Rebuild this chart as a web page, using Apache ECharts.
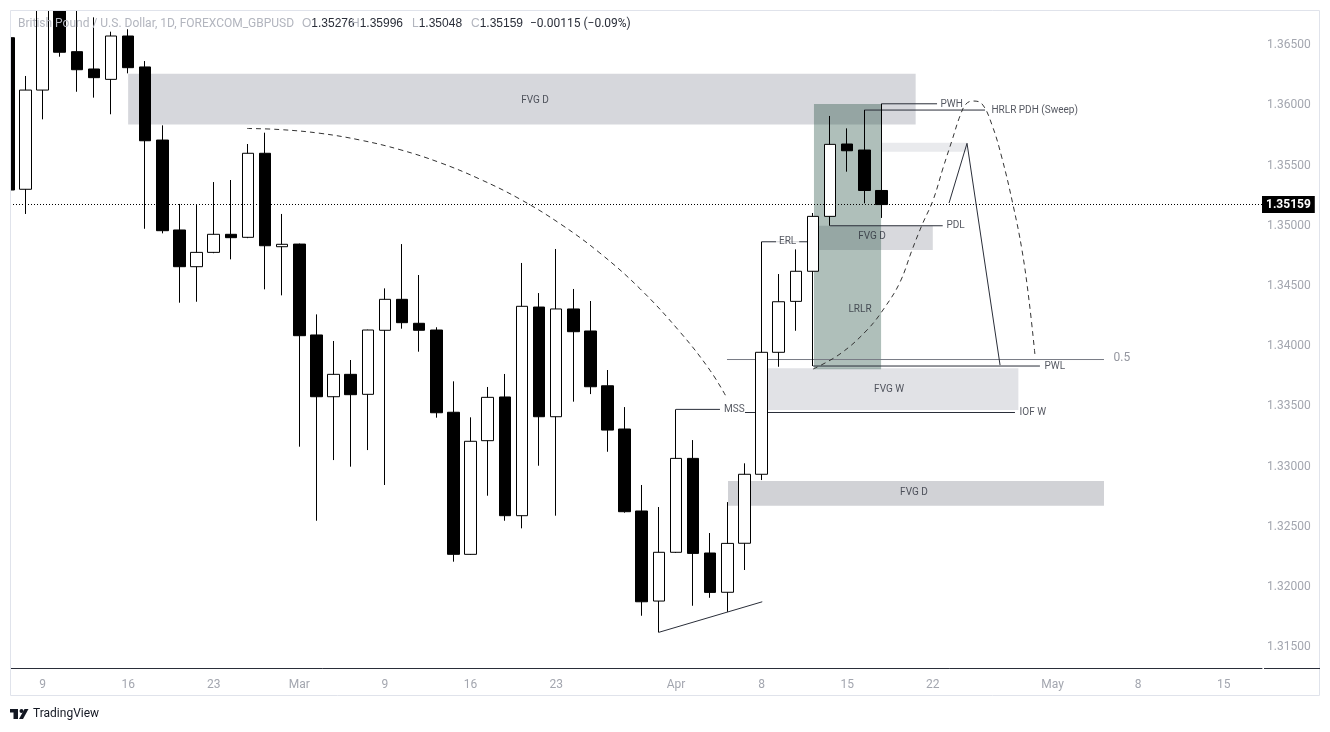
<!DOCTYPE html>
<html>
<head>
<meta charset="utf-8">
<title>GBPUSD 1D</title>
<script src="https://cdn.jsdelivr.net/npm/echarts@6/dist/echarts.min.js"></script>
<style>
  html, body { margin: 0; padding: 0; background: #fff; }
  #chart { width: 1330px; height: 732px; }
</style>
</head>
<body>
<div id="chart"></div>
<script>
// trading days shown (index = position on the x axis)
var days = ['Feb 5', 'Feb 6', 'Feb 9', 'Feb 10', 'Feb 11', 'Feb 12', 'Feb 13', 'Feb 16', 'Feb 17', 'Feb 18',
    'Feb 19', 'Feb 20', 'Feb 23', 'Feb 24', 'Feb 25', 'Feb 26', 'Feb 27', 'Mar 2', 'Mar 3', 'Mar 4',
    'Mar 5', 'Mar 6', 'Mar 9', 'Mar 10', 'Mar 11', 'Mar 12', 'Mar 13', 'Mar 16', 'Mar 17', 'Mar 18',
    'Mar 19', 'Mar 20', 'Mar 23', 'Mar 24', 'Mar 25', 'Mar 26', 'Mar 27', 'Mar 30', 'Mar 31', 'Apr 1',
    'Apr 2', 'Apr 3', 'Apr 6', 'Apr 7', 'Apr 8', 'Apr 9', 'Apr 10', 'Apr 13', 'Apr 14', 'Apr 15',
    'Apr 16', 'Apr 17'];

var opens = [1.36545, 1.35286, 1.36110, 1.36890, 1.36429, 1.36285, 1.36199, 1.36559, 1.36302, 1.35695,
    1.34948, 1.34643, 1.34762, 1.34912, 1.34887, 1.35585, 1.34809, 1.34831, 1.34076, 1.33563,
    1.33749, 1.33583, 1.34115, 1.34372, 1.34173, 1.34117, 1.33434, 1.32254, 1.33198, 1.33561,
    1.32575, 1.34308, 1.33397, 1.34292, 1.34109, 1.33654, 1.33295, 1.32614, 1.31866, 1.32271,
    1.33051, 1.32265, 1.31939, 1.32346, 1.32919, 1.33932, 1.34355, 1.34605, 1.35061, 1.35662,
    1.35612, 1.35276];
var highs = [1.36600, 1.36227, 1.37020, 1.37050, 1.36850, 1.36714, 1.36595, 1.36615, 1.36351, 1.35817,
    1.35164, 1.35155, 1.35346, 1.35363, 1.35662, 1.35756, 1.35081, 1.34835, 1.34247, 1.34026,
    1.33868, 1.34120, 1.34463, 1.34831, 1.34574, 1.34140, 1.33691, 1.33392, 1.33644, 1.33752,
    1.34674, 1.34424, 1.34790, 1.34458, 1.34358, 1.33785, 1.33477, 1.32830, 1.32647, 1.33458,
    1.33203, 1.32431, 1.32688, 1.33010, 1.34850, 1.34582, 1.34787, 1.35089, 1.35895, 1.35792,
    1.35944, 1.35996];
var lows = [1.35200, 1.35081, 1.35867, 1.36387, 1.36096, 1.36047, 1.35909, 1.36249, 1.34958, 1.34920,
    1.34344, 1.34352, 1.34755, 1.34704, 1.34880, 1.34455, 1.34405, 1.33148, 1.32533, 1.33037,
    1.32982, 1.33120, 1.32830, 1.34128, 1.33937, 1.33389, 1.32193, 1.32250, 1.32741, 1.32533,
    1.32470, 1.32990, 1.32575, 1.33522, 1.33585, 1.33106, 1.32600, 1.31744, 1.31606, 1.32265,
    1.31827, 1.31893, 1.31777, 1.32124, 1.32871, 1.33812, 1.34111, 1.33818, 1.34983, 1.35432,
    1.35169, 1.35048];
var closes = [1.35280, 1.36110, 1.36900, 1.36424, 1.36279, 1.36213, 1.36559, 1.36296, 1.35689, 1.34942,
    1.34643, 1.34762, 1.34912, 1.34884, 1.35585, 1.34817, 1.34829, 1.34070, 1.33563, 1.33749,
    1.33580, 1.34117, 1.34372, 1.34178, 1.34115, 1.33430, 1.32254, 1.33193, 1.33558, 1.32575,
    1.34314, 1.33397, 1.34292, 1.34103, 1.33646, 1.33286, 1.32608, 1.31860, 1.32271, 1.33051,
    1.32262, 1.31938, 1.32345, 1.32919, 1.33932, 1.34352, 1.34605, 1.35061, 1.35659, 1.35606,
    1.35276, 1.35159];
var lastPrice = 1.35159;

// time axis labels (bar index -> label), future bars continue the weekday count
var tickIdx = [2, 7, 12, 17, 22, 27, 32, 39, 44, 49, 54, 61, 66, 71];
var tickLabels = ['9', '16', '23', 'Mar', '9', '16', '23', 'Apr', '8', '15', '22', 'May', '8', '15'];
var priceTicks = [1.315, 1.32, 1.325, 1.33, 1.335, 1.34, 1.345, 1.35, 1.355, 1.36, 1.365];

// drawings, in [bar index, price]
var fvgTop = [[7, 1.36246], [53, 1.35824]];
var thinBand = [[51, 1.35673], [56, 1.35598]];
var fvgMid = [[47, 1.34983], [54, 1.34782]];
var fvgWeek = [[44, 1.33799], [59, 1.33453]];
var fvgLow = [[42.04, 1.32863], [64, 1.32658]];
var lrlrBox = [[47.06, 1.35994], [50.98, 1.33791]];

var mssLine = [[39, 1.33458], [41.57, 1.33458]];
var iofLine = [[43.03, 1.33432], [58.8, 1.33432]];
var erlLine = [[44, 1.3485], [47, 1.3485]];
var pdlLine = [[48, 1.34983], [54.58, 1.34983]];
var pwhLine = [[51, 1.35996], [54.25, 1.35996]];
var pdhLine = [[50, 1.35944], [57.05, 1.35944]];
var pwlLine = [[47, 1.33818], [60.26, 1.33818]];
var halfLine = [[41.98, 1.33872], [64, 1.33872]];
var trendLine = [[37.99, 1.31606], [44.04, 1.3186]];
var pathLine = [[54.95, 1.35172], [56.0, 1.35668], [57.93, 1.33826]];

var arcOne = [[13.95, 1.35791], [15.87, 1.35782], [18.21, 1.35751], [20.55, 1.35695], [22.88, 1.35615],
    [25.22, 1.35507], [27.55, 1.3537], [29.89, 1.35204], [32.23, 1.35], [34.56, 1.34756],
    [36.9, 1.3446], [39.24, 1.341], [40.99, 1.33782], [41.98, 1.33552]];
var arcTwo = [[47.01, 1.33793], [48.58, 1.33918], [50.16, 1.34117], [51.21, 1.34308], [52.09, 1.34516],
    [52.79, 1.34782], [53.37, 1.34989], [54.02, 1.35197], [54.6, 1.35463], [55.13, 1.35695],
    [55.59, 1.35895], [55.94, 1.35994], [56.35, 1.36019], [56.88, 1.35994], [57.46, 1.3582],
    [58.04, 1.35546], [58.69, 1.35155], [59.21, 1.34782], [59.62, 1.34366], [59.97, 1.33909]];

// text notes: [text, bar index, price, anchor]
var notes = [
    ['FVG D', 30.77, 1.36027, 'c'],
    ['FVG D', 50.45, 1.3489, 'c'],
    ['LRLR', 49.75, 1.34291, 'c'],
    ['FVG W', 51.45, 1.33627, 'c'],
    ['FVG D', 52.9, 1.32764, 'c'],
    ['MSS', 41.78, 1.33458, 'l'],
    ['ERL', 45.52, 1.3485, 'c'],
    ['PWH', 54.42, 1.35994, 'l'],
    ['HRLR PDH (Sweep)', 57.4, 1.35944, 'l'],
    ['PDL', 54.77, 1.34983, 'l'],
    ['PWL', 60.5, 1.33818, 'l'],
    ['IOF W', 59.04, 1.33432, 'l'],
    ['0.5', 64.53, 1.33882, 'l']
];

var FONT = 'Roboto, "Noto Sans", sans-serif';
var INK = '#2a2e39';
var AXIS_TEXT = '#a3a6af';

var candles = days.map(function (d, i) {
    return [i, opens[i], closes[i], lows[i], highs[i]];
});

function zone(box, color) {
    return [{coord: box[0], itemStyle: {color: color}}, {coord: box[1]}];
}

var noteData = notes.map(function (n) {
    var isHalf = n[0] === '0.5';
    var label = {
        show: true,
        formatter: n[0],
        position: n[3] === 'c' ? 'inside' : 'right',
        distance: 0,
        color: isHalf ? '#787b86' : INK,
        fontSize: isHalf ? 12 : 10,
        fontFamily: FONT
    };
    if (n[0] === 'ERL') {
        label.backgroundColor = '#fff';
        label.padding = [1, 3];
    }
    return {value: [n[1], n[2]], label: label};
});

var chart = echarts.init(document.getElementById('chart'));

var option = {
    animation: false,
    backgroundColor: '#fff',
    textStyle: {fontFamily: FONT},
    grid: {left: 10, right: 68, top: 10, bottom: 64},
    xAxis: {
        type: 'value',
        min: 0.1,
        max: 73.23,
        splitLine: {show: false},
        axisTick: {show: false},
        axisLine: {onZero: false, lineStyle: {color: INK, width: 1}},
        axisLabel: {
            customValues: tickIdx,
            formatter: function (v) {
                var k = tickIdx.indexOf(Math.round(v));
                return k >= 0 ? tickLabels[k] : '';
            },
            color: AXIS_TEXT,
            fontSize: 12,
            margin: 11
        }
    },
    yAxis: {
        type: 'value',
        position: 'right',
        min: 1.3131,
        max: 1.36775,
        splitLine: {show: false},
        axisLine: {show: false},
        axisTick: {show: false},
        axisLabel: {
            customValues: priceTicks,
            formatter: function (v) { return '{p|' + v.toFixed(5) + '}'; },
            color: AXIS_TEXT,
            fontSize: 12,
            margin: 5,
            rich: {p: {color: AXIS_TEXT, fontSize: 12, padding: [4, 0, 0, 0]}}
        }
    },
    graphic: [
        // mask for bars that run past the plot edges
        {type: 'rect', silent: true, z: 90, shape: {x: 0, y: 0, width: 1330, height: 10},
            style: {fill: '#fff'}},
        {type: 'rect', silent: true, z: 90, shape: {x: 0, y: 0, width: 10, height: 700},
            style: {fill: '#fff'}},
        {type: 'rect', silent: true, z: 95, shape: {x: 10.5, y: 10.5, width: 1309, height: 685},
            style: {fill: 'none', stroke: '#e0e3eb', lineWidth: 1}},
        {type: 'line', silent: true, z: 95, shape: {x1: 1264, y1: 668.5, x2: 1320, y2: 668.5},
            style: {stroke: INK, lineWidth: 1}},
        {type: 'text', silent: true, z: 100, x: 18, y: 24,
            style: {text: 'British Pound / U.S. Dollar, 1D, FOREXCOM_GBPUSD', fill: '#b2b5be',
                fontSize: 12, fontFamily: FONT, verticalAlign: 'middle'}},
        {type: 'text', silent: true, z: 100, x: 302, y: 24,
            style: {text: '{l|O}{v|1.35276}', fontSize: 12, fontFamily: FONT, verticalAlign: 'middle',
                rich: {l: {fill: '#b2b5be', fontSize: 12}, v: {fill: INK, fontSize: 12}}}},
        {type: 'text', silent: true, z: 100, x: 351, y: 24,
            style: {text: '{l|H}{v|1.35996}', fontSize: 12, fontFamily: FONT, verticalAlign: 'middle',
                rich: {l: {fill: '#b2b5be', fontSize: 12}, v: {fill: INK, fontSize: 12}}}},
        {type: 'text', silent: true, z: 100, x: 412, y: 24,
            style: {text: '{l|L}{v|1.35048}', fontSize: 12, fontFamily: FONT, verticalAlign: 'middle',
                rich: {l: {fill: '#b2b5be', fontSize: 12}, v: {fill: INK, fontSize: 12}}}},
        {type: 'text', silent: true, z: 100, x: 471, y: 24,
            style: {text: '{l|C}{v|1.35159}', fontSize: 12, fontFamily: FONT, verticalAlign: 'middle',
                rich: {l: {fill: '#b2b5be', fontSize: 12}, v: {fill: INK, fontSize: 12}}}},
        {type: 'text', silent: true, z: 100, x: 530, y: 24,
            style: {text: '\u22120.00115 (\u22120.09%)', fill: INK, fontSize: 12, fontFamily: FONT,
                verticalAlign: 'middle'}},
        // TradingView mark
        {type: 'rect', silent: true, shape: {x: 10, y: 709, width: 8, height: 3.5}, style: {fill: '#131722'}},
        {type: 'rect', silent: true, shape: {x: 13.5, y: 709, width: 4.5, height: 10}, style: {fill: '#131722'}},
        {type: 'circle', silent: true, shape: {cx: 21.5, cy: 711, r: 2}, style: {fill: '#131722'}},
        {type: 'polygon', silent: true, shape: {points: [[19, 719], [24.5, 709], [28.5, 709], [23, 719]]},
            style: {fill: '#131722'}},
        {type: 'text', silent: true, x: 33, y: 714,
            style: {text: 'TradingView', fill: '#131722', fontSize: 12, fontFamily: FONT, verticalAlign: 'middle'}}
    ],
    series: [
        {
            name: 'GBPUSD',
            type: 'candlestick',
            z: 3,
            barWidth: 12,
            clip: true,
            data: candles,
            encode: {x: 0, y: [1, 2, 3, 4]},
            itemStyle: {
                color: '#ffffff',
                color0: '#000000',
                borderColor: '#000000',
                borderColor0: '#000000',
                borderWidth: 1
            },
            markArea: {
                silent: true,
                z: 1,
                label: {show: false},
                data: [
                    zone(fvgTop, '#d6d7dc'),
                    zone(thinBand, '#e9eaed'),
                    zone(fvgMid, '#d8d9dd'),
                    zone(fvgWeek, '#e1e2e6'),
                    zone(fvgLow, '#d1d2d6'),
                    zone(lrlrBox, 'rgba(34,78,64,0.36)')
                ]
            },
            markLine: {
                silent: true,
                symbol: 'none',
                precision: 5,
                data: [{yAxis: lastPrice}],
                lineStyle: {color: '#000', width: 1, type: [1, 2]},
                label: {
                    position: 'end',
                    distance: 0,
                    formatter: lastPrice.toFixed(5),
                    backgroundColor: '#000',
                    color: '#fff',
                    fontWeight: 'bold',
                    fontSize: 12,
                    fontFamily: FONT,
                    padding: [3, 4, 2, 4]
                }
            }
        },
        {
            name: 'levels',
            type: 'lines',
            coordinateSystem: 'cartesian2d',
            polyline: true,
            silent: true,
            z: 2,
            lineStyle: {color: INK, width: 1, opacity: 1, curveness: 0},
            data: [
                {coords: mssLine},
                {coords: iofLine},
                {coords: erlLine},
                {coords: pdlLine},
                {coords: pwhLine},
                {coords: pdhLine},
                {coords: pwlLine},
                {coords: halfLine, lineStyle: {color: '#787b86', width: 1, opacity: 1}},
                {coords: trendLine}
            ]
        },
        {
            name: 'path',
            type: 'lines',
            coordinateSystem: 'cartesian2d',
            polyline: true,
            silent: true,
            z: 2,
            symbol: ['none', 'path://M0,10L5,0L10,10L8.6,10L5,2.8L1.4,10Z'],
            symbolSize: [9, 8],
            lineStyle: {color: INK, width: 1, opacity: 1},
            data: [{coords: pathLine}]
        },
        {
            name: 'arc1',
            type: 'line',
            silent: true,
            z: 2,
            smooth: 0.4,
            showSymbol: false,
            data: arcOne,
            lineStyle: {color: '#333', width: 1, type: [5, 4]}
        },
        {
            name: 'arc2',
            type: 'line',
            silent: true,
            z: 2,
            smooth: 0.4,
            showSymbol: false,
            data: arcTwo,
            lineStyle: {color: '#333', width: 1, type: [5, 4]}
        },
        {
            name: 'notes',
            type: 'scatter',
            silent: true,
            z: 6,
            symbolSize: 1,
            itemStyle: {color: 'rgba(0,0,0,0)'},
            data: noteData
        }
    ]
};

chart.setOption(option);
</script>
</body>
</html>
